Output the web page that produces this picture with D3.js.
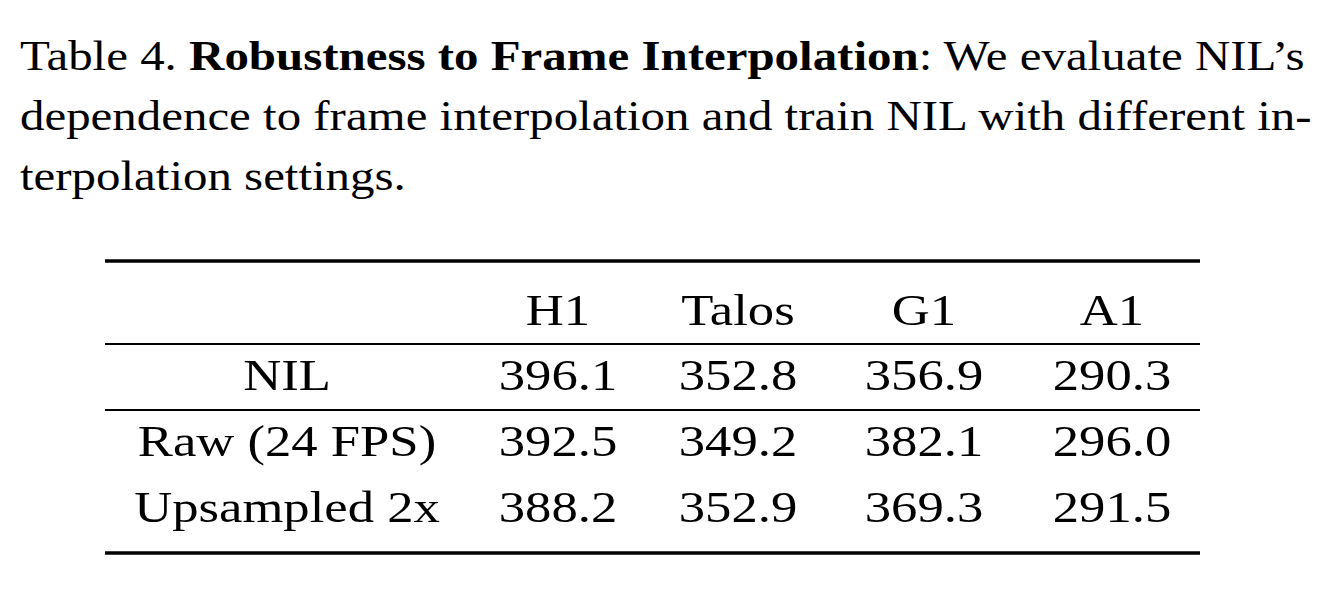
<!DOCTYPE html>
<html><head><meta charset="utf-8">
<script src="https://cdn.jsdelivr.net/npm/d3@7"></script>
<style>body{margin:0;background:#fff}svg{display:block}</style>
</head><body>
<script>
const columns = ["H1", "Talos", "G1", "A1"];
const rowLabels = ["NIL", "Raw (24 FPS)", "Upsampled 2x"];
const nilValues = ["396.1", "352.8", "356.9", "290.3"];
const rawValues = ["392.5", "349.2", "382.1", "296.0"];
const upValues = ["388.2", "352.9", "369.3", "291.5"];
const values = [nilValues, rawValues, upValues];
const captionLines = [
  [["Table 4. ", "normal"], ["Robustness to Frame Interpolation", "bold"], [": We evaluate NIL’s", "normal"]],
  [["dependence to frame interpolation and train NIL with different in-", "normal"]],
  [["terpolation settings.", "normal"]]
];

const W = 1328, H = 604;
const svg = d3.select("body").append("svg").attr("width", W).attr("height", H);
const font = "'Liberation Serif','Times New Roman',serif";

// caption
const cap = svg.append("g").attr("font-family", font).attr("font-size", 42).attr("fill", "#000")
  .attr("transform", "translate(20,0) scale(1.165,1)");
captionLines.forEach((line, i) => {
  const t = cap.append("text").attr("x", 0).attr("y", 70 + i * 60);
  line.forEach(([s, w]) => t.append("tspan").attr("font-weight", w).text(s));
});

// table
const xs = d3.scaleOrdinal().domain(["label", ...columns]).range([287, 558, 738, 924, 1112]);
const yRow = d3.scaleOrdinal().domain(["header", ...rowLabels]).range([325, 390, 456, 522]);
const tbl = svg.append("g").attr("font-family", font).attr("font-size", 45).attr("fill", "#000").attr("text-anchor", "middle");
const place = (k, y) => `translate(${xs(k)},${y}) scale(1.17,1)`;
tbl.selectAll("text.h").data(columns).join("text").attr("class", "h")
  .attr("transform", d => place(d, yRow("header"))).text(d => d);
rowLabels.forEach((r, i) => {
  tbl.append("text").attr("transform", place("label", yRow(r))).text(r);
  tbl.selectAll(null).data(values[i]).join("text")
    .attr("transform", (d, j) => place(columns[j], yRow(r))).text(d => d);
});
const rules = [[261, 3.5], [344, 1.8], [410, 1.8], [553, 3.5]];
svg.selectAll("line.r").data(rules).join("line").attr("class", "r")
  .attr("x1", 105).attr("x2", 1200).attr("y1", d => d[0]).attr("y2", d => d[0])
  .attr("stroke", "#000").attr("stroke-width", d => d[1]);
</script>
</body></html>
